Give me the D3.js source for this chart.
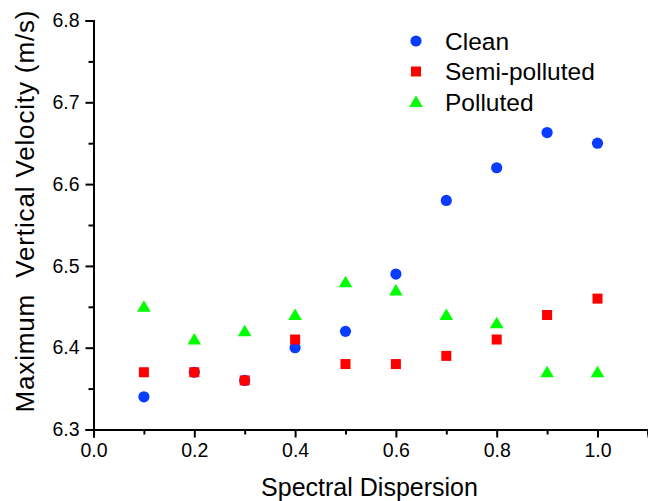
<!DOCTYPE html>
<html>
<head>
<meta charset="utf-8">
<script src="https://cdn.jsdelivr.net/npm/d3@7"></script>
<style>
  html, body { margin: 0; padding: 0; background: #fff; }
  svg { display: block; font-family: "Liberation Sans", Arial, sans-serif; }
</style>
</head>
<body>
<svg id="chart" width="648" height="501"></svg>
<script>
// Spectral dispersion values shared by all three series
const dispersion = [0.1, 0.2, 0.3, 0.4, 0.5, 0.6, 0.7, 0.8, 0.9, 1.0];
// Maximum vertical velocity (m/s) for each aerosol scenario
const clean        = [6.34, 6.37, 6.36, 6.40, 6.42, 6.49, 6.58, 6.62, 6.663, 6.65];
const semiPolluted = [6.37, 6.37, 6.36, 6.41, 6.38, 6.38, 6.39, 6.41, 6.44, 6.46];
const polluted     = [6.45, 6.41, 6.42, 6.44, 6.48, 6.47, 6.44, 6.43, 6.37, 6.37];

const seriesNames = ["Clean", "Semi-polluted", "Polluted"];
const xTicks = [0.0, 0.2, 0.4, 0.6, 0.8, 1.0];
const yTicks = [6.3, 6.4, 6.5, 6.6, 6.7, 6.8];

const svg = d3.select("#chart");

const x = d3.scaleLinear().domain([0, 1.1]).range([93.5, 93.5 + 554.4]);
const y = d3.scaleLinear().domain([6.3, 6.8]).range([429.5, 20.5]);

const series = [
  { name: seriesNames[0], values: clean,        color: "#0a3cff", shape: "circle" },
  { name: seriesNames[1], values: semiPolluted, color: "#ff0000", shape: "square" },
  { name: seriesNames[2], values: polluted,     color: "#00ff00", shape: "triangle" }
];

function drawMarker(g, shape, color) {
  if (shape === "circle") {
    g.append("circle").attr("r", 5.6).attr("fill", color);
  } else if (shape === "square") {
    g.append("rect").attr("x", -5).attr("y", -5).attr("width", 10).attr("height", 10).attr("fill", color);
  } else {
    g.append("path").attr("d", "M0,-6.5L6.8,5L-6.8,5Z").attr("fill", color);
  }
}

// Axes: major ticks labelled, minor ticks between them
const fmt = d3.format(".1f");
const xAxis = d3.axisBottom(x).tickValues(xTicks).tickFormat(fmt).tickSize(8).tickPadding(6);
const xMinor = d3.axisBottom(x).tickValues([0.1, 0.3, 0.5, 0.7, 0.9, 1.1]).tickFormat("").tickSize(5);
const yAxis = d3.axisLeft(y).tickValues(yTicks).tickFormat(fmt).tickSize(8).tickPadding(6);
const yMinor = d3.axisLeft(y).tickValues([6.35, 6.45, 6.55, 6.65, 6.75]).tickFormat("").tickSize(5);

function styleAxis(g) {
  g.select(".domain").attr("stroke", "#000").attr("stroke-width", 2);
  g.selectAll(".tick line").attr("stroke", "#000").attr("stroke-width", 2);
  g.selectAll(".tick text").attr("fill", "#000").style("font-size", "19.5px");
}

svg.append("g").attr("transform", `translate(0,${y(6.3)})`).call(xMinor).call(styleAxis);
svg.append("g").attr("transform", `translate(0,${y(6.3)})`).call(xAxis).call(styleAxis);
svg.append("g").attr("transform", `translate(${x(0)},0)`).call(yMinor).call(styleAxis);
svg.append("g").attr("transform", `translate(${x(0)},0)`).call(yAxis).call(styleAxis);

// Axis titles
svg.append("text")
  .attr("x", 369.5).attr("y", 496)
  .attr("text-anchor", "middle")
  .style("font-size", "25px")
  .text("Spectral Dispersion");

svg.append("text")
  .attr("transform", "translate(34,211.5) rotate(-90)")
  .attr("text-anchor", "middle")
  .attr("xml:space", "preserve")
  .attr("textLength", 402)
  .attr("lengthAdjust", "spacing")
  .style("white-space", "pre")
  .style("font-size", "26px")
  .text("Maximum  Vertical Velocity (m/s)");

// Data points
series.forEach(s => {
  svg.append("g").selectAll("g")
    .data(s.values.map((v, i) => [dispersion[i], v]))
    .join("g")
    .attr("transform", d => `translate(${x(d[0])},${y(d[1])})`)
    .each(function () { drawMarker(d3.select(this), s.shape, s.color); });
});

// Legend
const legend = svg.append("g");
series.forEach((s, i) => {
  const row = legend.append("g").attr("transform", `translate(416,${41 + i * 30.5})`);
  drawMarker(row, s.shape, s.color);
  row.append("text")
    .attr("x", 29).attr("y", 0).attr("dy", "0.35em")
    .style("font-size", "24.5px")
    .text(s.name);
});
</script>
</body>
</html>
